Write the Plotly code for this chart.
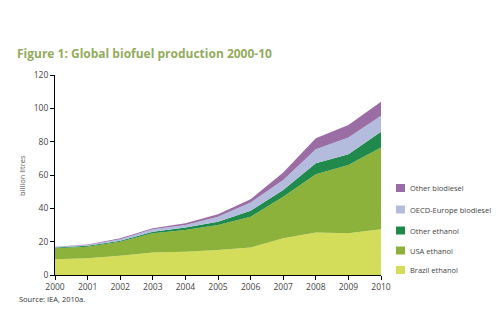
import plotly.graph_objects as go

years = [2000, 2001, 2002, 2003, 2004, 2005, 2006, 2007, 2008, 2009, 2010]
brazil_ethanol = [9.5, 10, 11.5, 13.5, 14, 15, 16.5, 22, 25.5, 25, 27.5]
usa_ethanol = [6.5, 7, 8.5, 11.5, 13, 15, 18.5, 25, 35, 41, 49]
other_ethanol = [0.5, 0.5, 0.5, 1, 1.5, 2, 3.5, 4, 6.5, 6.5, 9.5]
oecd_europe_biodiesel = [0.3, 0.5, 1, 1.5, 1.5, 3, 5, 6, 8.5, 10, 9.5]
other_biodiesel = [0.2, 0.3, 0.5, 0.5, 1, 1.5, 2, 4.5, 6.5, 7.5, 8.5]

series_names = ["Brazil ethanol", "USA ethanol", "Other ethanol",
                "OECD-Europe biodiesel", "Other biodiesel"]
series_values = [brazil_ethanol, usa_ethanol, other_ethanol,
                 oecd_europe_biodiesel, other_biodiesel]
colors = ["#d3dd5a", "#8db23c", "#1f8a4c", "#b3bcdd", "#9a6ea5"]

y_ticks = [0, 20, 40, 60, 80, 100, 120]
x_ticks = years

fig = go.Figure()
for name, vals, col in zip(series_names, series_values, colors):
    fig.add_trace(go.Scatter(x=years, y=vals, name=name, stackgroup="one",
                             mode="none", fillcolor=col, showlegend=False))

W, H = 502, 328
L, R, T, B = 55, 381, 75, 275

def px_to_paper(px, py):
    return (px - L) / (R - L), (B - py) / (B - T)

# custom legend (top to bottom: reversed order)
leg_y = [188, 209.5, 230.5, 250.5, 270]
for i, (name, col) in enumerate(zip(series_names[::-1], colors[::-1])):
    cy = leg_y[i]
    x0, y0 = px_to_paper(396, cy + 4)
    x1, y1 = px_to_paper(405, cy - 4)
    fig.add_shape(type="rect", xref="paper", yref="paper", x0=x0, x1=x1,
                  y0=y0, y1=y1, fillcolor=col, line=dict(width=0))
    tx, ty = px_to_paper(408, cy)
    fig.add_annotation(xref="paper", yref="paper", x=tx, y=ty, text=name,
                       showarrow=False, xanchor="left", yanchor="middle",
                       font=dict(size=7.5, color="#444444", family="Open Sans"))

ax, ay = px_to_paper(22, 176)
fig.add_annotation(xref="paper", yref="paper", x=ax, y=ay, text="billion litres",
                   textangle=-90, showarrow=False, xanchor="center", yanchor="middle",
                   font=dict(size=7.5, color="#555555", family="Open Sans"))
sx, sy = px_to_paper(17, 299)
fig.add_annotation(xref="paper", yref="paper", x=sx, y=sy, text="Source: IEA, 2010a.",
                   showarrow=False, xanchor="left", yanchor="middle",
                   font=dict(size=7.5, color="#333333", family="Open Sans"))

fig.update_layout(
    width=W, height=H,
    margin=dict(l=L, r=W - R, t=T, b=H - B),
    paper_bgcolor="white", plot_bgcolor="white",
    title=dict(text="<b>Figure 1: Global biofuel production 2000-10</b>",
               x=17 / W, xanchor="left", xref="container",
               y=1 - 54 / H, yanchor="middle", yref="container",
               font=dict(size=12, color="#93ab5c", family="Open Sans")),
    xaxis=dict(range=[2000, 2010], tickvals=x_ticks, showgrid=False, zeroline=False,
               showline=True, linecolor="black", linewidth=1,
               ticks="outside", ticklen=4, tickcolor="black",
               tickfont=dict(size=8.5, color="#444444", family="Open Sans")),
    yaxis=dict(range=[0, 120], tickvals=y_ticks, showgrid=False, zeroline=False,
               showline=True, linecolor="black", linewidth=1,
               ticks="outside", ticklen=4, tickcolor="black",
               tickfont=dict(size=8.5, color="#444444", family="Open Sans")),
)

fig.write_html("out.html")
